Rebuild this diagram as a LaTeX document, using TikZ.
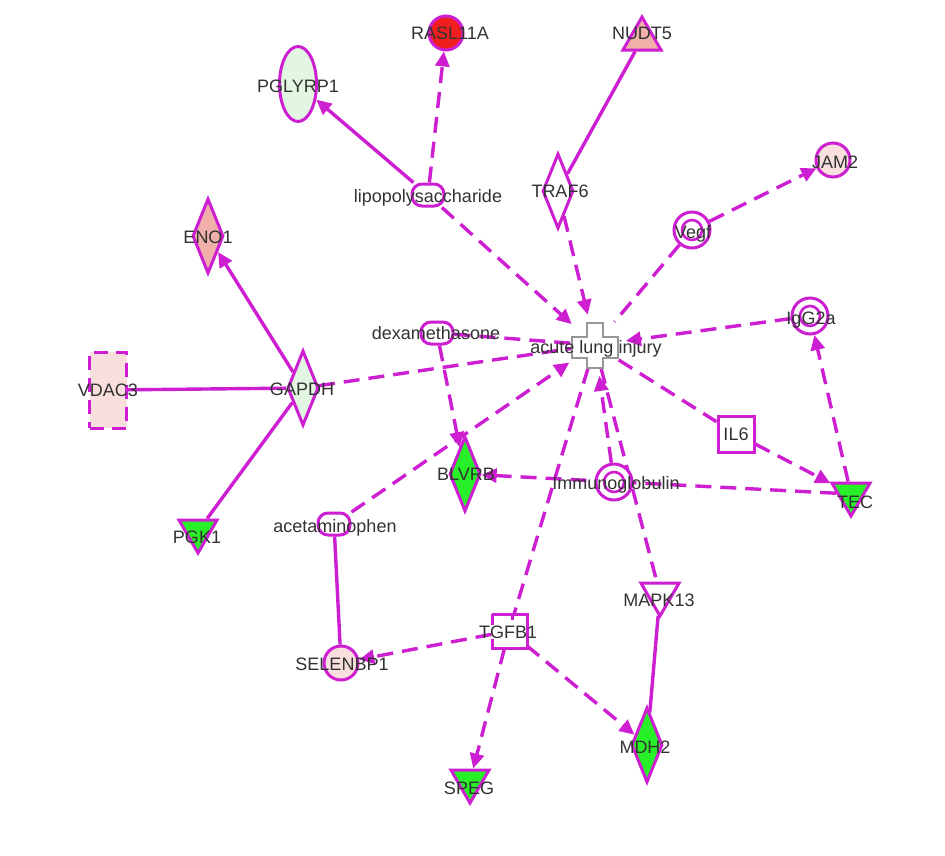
\documentclass[tikz,border=0pt]{standalone}
\usepackage{fontspec}
\setmainfont{Liberation Sans}
\usetikzlibrary{shapes.geometric,arrows.meta,backgrounds}
\definecolor{mag}{RGB}{205,30,210}
\definecolor{txt}{RGB}{50,50,50}
\definecolor{redf}{RGB}{240,30,30}
\definecolor{salmon}{RGB}{240,175,168}
\definecolor{ltgreen}{RGB}{226,246,226}
\definecolor{ltpink}{RGB}{248,222,220}
\definecolor{grn}{RGB}{40,240,40}
\definecolor{crossgray}{RGB}{150,150,150}
\begin{document}
\begin{tikzpicture}[x=1pt,y=-1pt,
  shp/.style={draw=mag,line width=3pt,fill=white,inner sep=0pt},
  dia/.style={shp,diamond,minimum width=31pt,minimum height=75pt},
  circ/.style={shp,circle,minimum size=34pt},
  dcirc/.style={shp,circle,minimum size=36pt},
  tridown/.style={shp,regular polygon,regular polygon sides=3,shape border rotate=180,minimum size=44pt},
  triup/.style={shp,regular polygon,regular polygon sides=3,minimum size=44pt},
  pill/.style={shp,rectangle,rounded corners=10pt,minimum width=32pt,minimum height=22pt},
  lbl/.style={inner sep=0pt,text=txt,font=\fontsize{18}{20}\selectfont,text height=12.9pt,text depth=0pt},
  con/.style={draw=mag,line width=3.4pt},
  dsh/.style={con,dash pattern=on 16pt off 9pt},
  arr/.style={-{Triangle[length=15pt,width=14pt]}},
  inner/.style={draw=mag,line width=2.6pt}
]
\useasboundingbox (0,0) rectangle (945,855);
% shapes
\node[circ,fill=redf] (RASL) at (446,33) {};
\node[triup,fill=salmon] (NUDT5) at (642,39) {};
\node[shp,ellipse,fill=ltgreen,minimum width=37pt,minimum height=75pt] (PGLYRP1) at (298,84) {};
\node[pill] (LPS) at (428,195) {};
\node[dia] (TRAF6) at (558,191) {};
\node[circ,fill=ltpink] (JAM2) at (833,160) {};
\node[dcirc] (Vegf) at (692,230) {};
\node[dia,fill=salmon] (ENO1) at (208,236) {};
\node[pill] (DEX) at (437,333) {};
\node[circle,minimum size=62pt,inner sep=0pt] (ALI) at (595,345) {};
\node[rectangle,minimum width=47pt,minimum height=46pt,inner sep=0pt] (ALIx) at (595,345) {};
\node[dcirc] (IgG2a) at (810,316) {};
\node[shp,rectangle,fill=ltpink,dash pattern=on 14pt off 8pt,minimum width=37pt,minimum height=76pt] (VDAC3) at (108,390) {};
\node[dia,fill=ltgreen] (GAPDH) at (303,388) {};
\node[shp,rectangle,minimum size=36pt] (IL6) at (736,434) {};
\node[dia,fill=grn] (BLVRB) at (465,474) {};
\node[dcirc] (IG) at (614,482) {};
\node[tridown,fill=grn] (TEC) at (851,494) {};
\node[tridown,fill=grn] (PGK1) at (198,531) {};
\node[pill] (ACE) at (334,524) {};
\node[tridown] (MAPK13) at (660,594) {};
\node[rectangle,fill=white,minimum size=35pt,inner sep=0pt] (TGFB1) at (509,631) {};
\node[circ,fill=ltpink] (SELENBP1) at (341,663) {};
\node[tridown,fill=grn] (SPEG) at (470,781) {};
\node[dia,fill=grn] (MDH2) at (647,745) {};
% extra glyph details
\foreach \n in {Vegf,IgG2a,IG} \draw[inner] (\n.center) circle[radius=10pt];
\begin{scope}[shift={(595,345)}]
\draw[draw=crossgray,line width=1.6pt,fill=white] (-8,-22) -- (8,-22) -- (8,-8) -- (23,-8) -- (23,13) -- (8,13) -- (8,23) -- (-8,23) -- (-8,13) -- (-23,13) -- (-23,-8) -- (-8,-8) -- cycle;
\end{scope}
\begin{scope}[shift={(509,631)}]
\draw[draw=mag,line width=3pt] (-17,-17) -- (18,-17) -- (18,17) -- (-17,17) -- (-17,8);
\draw[draw=mag,line width=3pt] (-17,-6) -- (-17,-17);
\draw[draw=mag,line width=3pt] (3,-17) -- (3,-11);
\end{scope}
% connectors
\begin{pgfonlayer}{background}
\fill[white] (0,0) rectangle (945,855);
\draw[con,arr] (LPS) -- (PGLYRP1);
\draw[dsh,arr] (LPS) -- (RASL);
\draw[dsh,arr] (LPS) -- (ALI);
\draw[con] (TRAF6) -- (NUDT5);
\draw[dsh,arr] (TRAF6) -- (ALI);
\draw[dsh,arr] (Vegf) -- (JAM2);
\draw[dsh] (Vegf) -- (ALIx);
\draw[dsh,arr] (IgG2a) -- (ALI);
\draw[dsh] (DEX) -- (ALIx);
\draw[dsh,arr] (DEX) -- (BLVRB);
\draw[con,arr] (GAPDH) -- (ENO1);
\draw[con] (GAPDH) -- (VDAC3);
\draw[con] (GAPDH) -- (PGK1);
\draw[dsh] (GAPDH) -- (ALIx);
\draw[dsh,arr] (ACE) -- (ALI);
\draw[con] (ACE) -- (SELENBP1);
\draw[dsh] (ALIx) -- (IL6);
\draw[dsh,arr] (IL6) -- (TEC);
\draw[dsh,arr] (TEC) -- (IgG2a);
\draw[dsh,arr] (TEC) -- (BLVRB);
\draw[dsh,arr] (IG) -- (ALI);
\draw[dsh] (ALIx) -- (MAPK13);
\draw[dsh] (ALIx) -- (TGFB1);
\draw[dsh,arr] (TGFB1) -- (SELENBP1);
\draw[dsh,arr] (TGFB1) -- (SPEG);
\draw[dsh,arr] (TGFB1) -- (MDH2);
\draw[con] (MAPK13) -- (MDH2);
\end{pgfonlayer}
% labels
\node[lbl] (lRASL) at (450,33) {RASL11A};
\node[lbl] (lNUDT5) at (642,33) {NUDT5};
\node[lbl] (lPGLYRP1) at (298,86) {PGLYRP1};
\node[lbl] (lLPS) at (428,196) {lipopolysaccharide};
\node[lbl] (lTRAF6) at (560,191) {TRAF6};
\node[lbl] (lJAM2) at (835,162) {JAM2};
\node[lbl] (lVegf) at (693,232) {Vegf};
\node[lbl] (lENO1) at (208,237) {ENO1};
\node[lbl] (lDEX) at (436,333) {dexamethasone};
\node[lbl] (lALI) at (596,347) {acute lung injury};
\node[lbl] (lIgG2a) at (811,318) {IgG2a};
\node[lbl] (lVDAC3) at (108,390) {VDAC3};
\node[lbl] (lGAPDH) at (302,389) {GAPDH};
\node[lbl] (lIL6) at (736,434) {IL6};
\node[lbl] (lBLVRB) at (466,474) {BLVRB};
\node[lbl] (lIG) at (616,483) {Immunoglobulin};
\node[lbl] (lTEC) at (855,502) {TEC};
\node[lbl] (lPGK1) at (197,537) {PGK1};
\node[lbl] (lACE) at (335,526) {acetaminophen};
\node[lbl] (lMAPK13) at (659,600) {MAPK13};
\node[lbl] (lTGFB1) at (508,632) {TGFB1};
\node[lbl] (lSELENBP1) at (342,664) {SELENBP1};
\node[lbl] (lSPEG) at (469,788) {SPEG};
\node[lbl] (lMDH2) at (645,747) {MDH2};
\end{tikzpicture}
\end{document}
